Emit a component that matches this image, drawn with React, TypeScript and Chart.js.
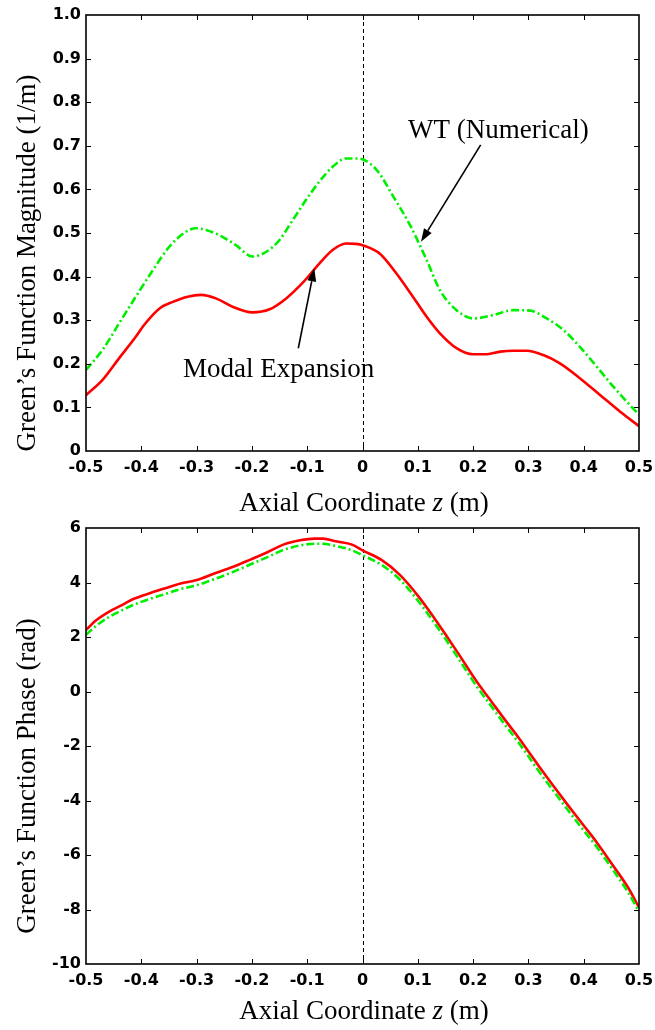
import React, { useEffect, useRef } from "react";
import { Chart, registerables } from "chart.js";

Chart.register(...registerables);

// ---------- Data ----------
const magZ_ME = [
  -0.5, -0.47, -0.44, -0.41, -0.395, -0.367, -0.343, -0.316, -0.292, -0.265, -0.235, -0.199, -0.168,
  -0.138, -0.108, -0.078, -0.054, -0.03, -0.012, 0, 0.032, 0.059, 0.089, 0.116, 0.14, 0.17, 0.2,
  0.225, 0.249, 0.273, 0.297, 0.327, 0.357, 0.393, 0.43, 0.466, 0.5,
];
const magME = [
  0.128, 0.163, 0.213, 0.262, 0.289, 0.327, 0.342, 0.354, 0.358, 0.35, 0.331, 0.318, 0.325,
  0.35, 0.386, 0.43, 0.461, 0.476, 0.475, 0.472, 0.452, 0.411, 0.358, 0.308, 0.27, 0.236, 0.222,
  0.222, 0.228, 0.23, 0.23, 0.22, 0.201, 0.167, 0.128, 0.09, 0.057,
];
const magZ_WT = [
  -0.5, -0.47, -0.44, -0.41, -0.379, -0.349, -0.319, -0.301, -0.283, -0.259, -0.229, -0.199, -0.174,
  -0.15, -0.126, -0.102, -0.078, -0.054, -0.03, -0.012, 0, 0.026, 0.056, 0.086, 0.116, 0.14, 0.17,
  0.2, 0.237, 0.273, 0.303, 0.333, 0.363, 0.393, 0.424, 0.454, 0.478, 0.5,
];
const magWT = [
  0.186, 0.232, 0.293, 0.354, 0.415, 0.469, 0.503, 0.511, 0.507, 0.495, 0.472, 0.446, 0.457,
  0.484, 0.53, 0.576, 0.618, 0.652, 0.671, 0.671, 0.669, 0.644, 0.583, 0.518, 0.438, 0.369, 0.323,
  0.304, 0.312, 0.323, 0.322, 0.304, 0.278, 0.239, 0.193, 0.147, 0.113, 0.083,
];
const phZ = [
  -0.5, -0.481, -0.458, -0.435, -0.419, -0.39, -0.358, -0.329, -0.3, -0.268, -0.235, -0.203, -0.171,
  -0.142, -0.113, -0.087, -0.071, -0.048, -0.019, 0, 0.035, 0.068, 0.1, 0.129, 0.152, 0.177, 0.2,
  0.21, 0.235, 0.258, 0.281, 0.3, 0.319, 0.345, 0.371, 0.4, 0.423, 0.452, 0.481, 0.5,
];
const phaseME = [
  2.26, 2.62, 2.93, 3.17, 3.35, 3.57, 3.78, 3.96, 4.09, 4.33, 4.57, 4.84, 5.12,
  5.4, 5.55, 5.61, 5.61, 5.51, 5.39, 5.18, 4.82, 4.27, 3.52, 2.72, 2.04, 1.28, 0.56,
  0.27, -0.42, -1.05, -1.66, -2.2, -2.74, -3.46, -4.16, -4.92, -5.52, -6.36, -7.22, -7.93,
];
const phaseWT = [
  2.08, 2.42, 2.74, 2.98, 3.14, 3.36, 3.57, 3.76, 3.9, 4.12, 4.38, 4.66, 4.94,
  5.2, 5.36, 5.42, 5.42, 5.34, 5.18, 5.0, 4.64, 4.1, 3.34, 2.54, 1.87, 1.1, 0.38,
  0.09, -0.6, -1.23, -1.84, -2.38, -2.93, -3.64, -4.34, -5.1, -5.69, -6.52, -7.39, -8.08,
];

const xTicks = [-0.5, -0.4, -0.3, -0.2, -0.1, 0, 0.1, 0.2, 0.3, 0.4, 0.5];
const xTickLabels = ["-0.5", "-0.4", "-0.3", "-0.2", "-0.1", "0", "0.1", "0.2", "0.3", "0.4", "0.5"];
const magTicks = [0, 0.1, 0.2, 0.3, 0.4, 0.5, 0.6, 0.7, 0.8, 0.9, 1.0];
const magTickLabels = ["0", "0.1", "0.2", "0.3", "0.4", "0.5", "0.6", "0.7", "0.8", "0.9", "1.0"];
const phTicks = [-10, -8, -6, -4, -2, 0, 2, 4, 6];
const phTickLabels = ["-10", "-8", "-6", "-4", "-2", "0", "2", "4", "6"];

const xTitleParts = ["Axial Coordinate ", "z", " (m)"];
const magTitle = "Green\u2019s Function Magnitude (1/m)";
const phTitle = "Green\u2019s Function Phase (rad)";
const wtLabel = "WT (Numerical)";
const meLabel = "Modal Expansion";

// ---------- Styles ----------
const RED = "#ff0000";
const GREEN = "#00ee00";
const SERIF = '"Liberation Serif", "Times New Roman", serif';
const TICK_FONT = { family: "DejaVu Sans", size: 16, weight: "bold" };

function drawArrow(ctx: CanvasRenderingContext2D, x1: number, y1: number, x2: number, y2: number) {
  const ang = Math.atan2(y2 - y1, x2 - x1);
  const hl = 13;
  const hw = 4.5;
  const bx = x2 - hl * Math.cos(ang);
  const by = y2 - hl * Math.sin(ang);
  ctx.save();
  ctx.strokeStyle = "#000";
  ctx.fillStyle = "#000";
  ctx.lineWidth = 1.6;
  ctx.setLineDash([]);
  ctx.beginPath();
  ctx.moveTo(x1, y1);
  ctx.lineTo(bx, by);
  ctx.stroke();
  ctx.beginPath();
  ctx.moveTo(x2, y2);
  ctx.lineTo(bx + hw * Math.sin(ang), by - hw * Math.cos(ang));
  ctx.lineTo(bx - hw * Math.sin(ang), by + hw * Math.cos(ang));
  ctx.closePath();
  ctx.fill();
  ctx.restore();
}

function makePlugin(yTitle: string, xTitleOffset: number, annotate: boolean) {
  return {
    id: "matlabFrame",
    beforeDatasetsDraw(chart: any) {
      const { ctx, chartArea: a, scales } = chart;
      const x0 = Math.round(scales.x.getPixelForValue(0)) + 0.5;
      ctx.save();
      ctx.strokeStyle = "#000";
      ctx.lineWidth = 1;
      ctx.setLineDash([4, 3]);
      ctx.beginPath();
      ctx.moveTo(x0, a.top);
      ctx.lineTo(x0, a.bottom);
      ctx.stroke();
      ctx.restore();
    },
    afterDatasetsDraw(chart: any) {
      const { ctx, chartArea: a, scales } = chart;
      const tl = 5;
      ctx.save();
      ctx.strokeStyle = "#000";
      ctx.setLineDash([]);
      ctx.lineWidth = 1;
      ctx.beginPath();
      scales.x.ticks.forEach((t: any) => {
        const px = Math.round(scales.x.getPixelForValue(t.value)) + 0.5;
        if (px <= a.left + 1 || px >= a.right - 1) return;
        ctx.moveTo(px, a.bottom);
        ctx.lineTo(px, a.bottom - tl);
        ctx.moveTo(px, a.top);
        ctx.lineTo(px, a.top + tl);
      });
      scales.y.ticks.forEach((t: any) => {
        const py = Math.round(scales.y.getPixelForValue(t.value)) + 0.5;
        if (py <= a.top + 1 || py >= a.bottom - 1) return;
        ctx.moveTo(a.left, py);
        ctx.lineTo(a.left + tl, py);
        ctx.moveTo(a.right, py);
        ctx.lineTo(a.right - tl, py);
      });
      ctx.stroke();
      ctx.lineWidth = 1.6;
      ctx.strokeRect(a.left, a.top, a.right - a.left, a.bottom - a.top);
      ctx.restore();
    },
    afterDraw(chart: any) {
      const { ctx, chartArea: a, scales } = chart;
      ctx.save();
      ctx.fillStyle = "#000";
      ctx.textBaseline = "alphabetic";
      // x title with italic z
      const fonts = [`27px ${SERIF}`, `italic 27px ${SERIF}`, `27px ${SERIF}`];
      const widths = xTitleParts.map((p, i) => {
        ctx.font = fonts[i];
        return ctx.measureText(p).width;
      });
      const total = widths.reduce((s, w) => s + w, 0);
      let cx = (a.left + a.right) / 2 + 1.5 - total / 2;
      const by = a.bottom + xTitleOffset;
      ctx.textAlign = "left";
      xTitleParts.forEach((p, i) => {
        ctx.font = fonts[i];
        ctx.fillText(p, cx, by);
        cx += widths[i];
      });
      // y title
      ctx.save();
      ctx.font = `27px ${SERIF}`;
      ctx.translate(35, (a.top + a.bottom) / 2 + 30);
      ctx.rotate(-Math.PI / 2);
      ctx.textAlign = "center";
      ctx.fillText(yTitle, 0, 0);
      ctx.restore();
      if (annotate) {
        const X = (v: number) => scales.x.getPixelForValue(v);
        const Y = (v: number) => scales.y.getPixelForValue(v);
        ctx.font = `27px ${SERIF}`;
        ctx.textAlign = "left";
        ctx.fillText(wtLabel, X(0.0823), Y(0.719));
        ctx.fillText(meLabel, X(-0.3246), Y(0.1704));
        drawArrow(ctx, X(0.2137), Y(0.702), X(0.1058), Y(0.48));
        drawArrow(ctx, X(-0.1161), Y(0.2356), X(-0.0872), Y(0.419));
      }
      ctx.restore();
    },
  };
}

function xScale(height: number) {
  return {
    type: "linear",
    min: -0.5,
    max: 0.5,
    afterBuildTicks: (s: any) => {
      s.ticks = xTicks.map((v) => ({ value: v }));
    },
    afterFit: (s: any) => {
      s.height = height;
      s.paddingLeft = 0;
      s.paddingRight = 0;
    },
    grid: { display: false, drawTicks: false },
    border: { display: false },
    ticks: {
      padding: 7,
      color: "#000",
      font: TICK_FONT,
      maxRotation: 0,
      autoSkip: false,
      callback: (_v: any, i: number) => xTickLabels[i],
    },
  };
}

function yScale(min: number, max: number, ticks: number[], labels: string[]) {
  return {
    type: "linear",
    min,
    max,
    afterBuildTicks: (s: any) => {
      s.ticks = ticks.map((v) => ({ value: v }));
    },
    afterFit: (s: any) => {
      s.width = 86;
      s.paddingTop = 0;
      s.paddingBottom = 0;
    },
    grid: { display: false, drawTicks: false },
    border: { display: false },
    ticks: {
      padding: 5,
      color: "#000",
      font: TICK_FONT,
      autoSkip: false,
      callback: (_v: any, i: number) => labels[i],
    },
  };
}

function lineSet(label: string, xs: number[], ys: number[], color: string, dash: number[]) {
  return {
    label,
    data: xs.map((x, i) => ({ x, y: ys[i] })),
    borderColor: color,
    backgroundColor: color,
    borderWidth: 2.6,
    borderDash: dash,
    pointRadius: 0,
    fill: false,
    cubicInterpolationMode: "monotone",
  };
}

export default function App() {
  const topRef = useRef<HTMLCanvasElement>(null);
  const botRef = useRef<HTMLCanvasElement>(null);

  useEffect(() => {
    const common = {
      responsive: false,
      maintainAspectRatio: false,
      animation: false,
      plugins: { legend: { display: false }, tooltip: { enabled: false } },
    };
    const top = new Chart(topRef.current as HTMLCanvasElement, {
      type: "line",
      data: {
        datasets: [
          lineSet(wtLabel, magZ_WT, magWT, GREEN, [8, 3, 2, 3]),
          lineSet(meLabel, magZ_ME, magME, RED, []),
        ],
      },
      options: {
        ...common,
        layout: { padding: { left: 0, top: 15, right: 16, bottom: 0 } },
        scales: { x: xScale(69), y: yScale(0, 1, magTicks, magTickLabels) },
      } as any,
      plugins: [makePlugin(magTitle, 60, true)],
    } as any);
    const bot = new Chart(botRef.current as HTMLCanvasElement, {
      type: "line",
      data: {
        datasets: [
          lineSet(wtLabel, phZ, phaseWT, GREEN, [8, 3, 2, 3]),
          lineSet(meLabel, phZ, phaseME, RED, []),
        ],
      },
      options: {
        ...common,
        layout: { padding: { left: 0, top: 23, right: 16, bottom: 0 } },
        scales: { x: xScale(66), y: yScale(-10, 6, phTicks, phTickLabels) },
      } as any,
      plugins: [makePlugin(phTitle, 55, false)],
    } as any);
    return () => {
      top.destroy();
      bot.destroy();
    };
  }, []);

  return (
    <div style={{ position: "absolute", left: 0, top: 0, width: 655, height: 1030, background: "#fff" }}>
      <canvas
        ref={topRef}
        width={655}
        height={520}
        style={{ position: "absolute", left: 0, top: 0, width: 655, height: 520, display: "block" }}
      />
      <canvas
        ref={botRef}
        width={655}
        height={525}
        style={{ position: "absolute", left: 0, top: 505, width: 655, height: 525, display: "block" }}
      />
    </div>
  );
}
